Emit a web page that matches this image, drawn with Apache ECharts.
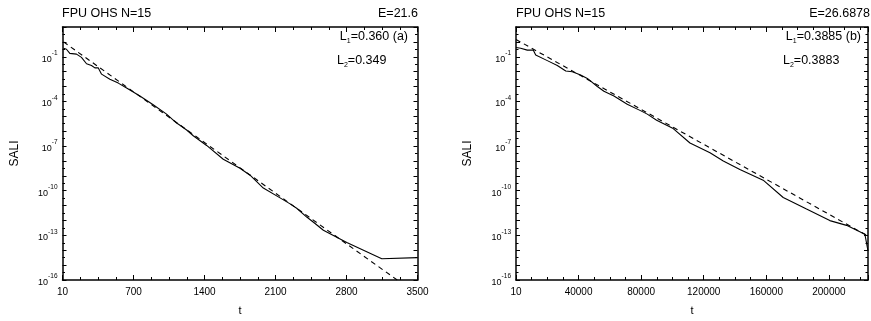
<!DOCTYPE html>
<html><head><meta charset="utf-8">
<script src="https://cdn.jsdelivr.net/npm/echarts@6/dist/echarts.min.js"></script>
<style>html,body{margin:0;padding:0;background:#fff}#c{width:871px;height:321px}</style>
</head><body><div id="c"></div>
<script>
// ---- data (panel a: E=21.6) ----
const tA = [10, 39, 72, 138, 187, 237, 286, 319, 352, 385, 467, 550, 632, 763, 894, 1026, 1125, 1158, 1224, 1289, 1421, 1585, 1750, 1849, 1980, 2145, 2244, 2309, 2408, 2490, 2572, 2803, 3148, 3500];
const saliA = [3.7e-1, 3.2e-1, 1.7e-1, 1.5e-1, 9.1e-2, 3.4e-2, 2.6e-2, 1.8e-2, 1.8e-2, 6.8e-3, 3.1e-3, 1.7e-3, 7.9e-4, 2.3e-4, 5.9e-5, 1.4e-5, 3.5e-6, 2.5e-6, 1.2e-6, 4.9e-7, 1.1e-7, 1.3e-8, 3.2e-9, 1.1e-9, 1.5e-10, 3.3e-11, 1.3e-11, 6.6e-12, 1.7e-12, 6.3e-13, 2.2e-13, 3.3e-14, 2.7e-15, 3.2e-15];
const fitTA = [10, 3300];
const fitA = [1.0e0, 1e-16];
// ---- data (panel b: E=26.6878) ----
const tB = [10, 3000, 7200, 11000, 12600, 20000, 26400, 31800, 36000, 41300, 45600, 52000, 56200, 62600, 71100, 79200, 83900, 89900, 100500, 111200, 124000, 132500, 143100, 158000, 170800, 185700, 200600, 211300, 223000, 225000];
const saliB = [4.2e-1, 3.7e-1, 2.8e-1, 2.8e-1, 1.3e-1, 5.5e-2, 2.6e-2, 1.1e-2, 9.8e-3, 5.9e-3, 3.5e-3, 1.0e-3, 4.8e-4, 2.3e-4, 6.5e-5, 2.5e-5, 1.4e-5, 5.4e-6, 1.5e-6, 1.6e-7, 3.5e-8, 1.0e-8, 2.7e-9, 5.1e-10, 3.5e-11, 5.8e-12, 9.8e-13, 4.7e-13, 1.2e-13, 8.9e-15];
const fitTB = [10, 225000];
const fitB = [1.45e0, 8.9e-14];
// ---- axis ticks / texts ----
const xTicksA = [10, 700, 1400, 2100, 2800, 3500];
const xTicksB = [10, 40000, 80000, 120000, 160000, 200000];
const yLabelExps = [-1, -4, -7, -10, -13, -16];
const headerLeft = 'FPU OHS N=15';
const energyA = 'E=21.6', energyB = 'E=26.6878';
const lyapA = ['0.360', '0.349', '(a)'];
const lyapB = ['0.3885', '0.3883', '(b)'];

const FF = '"Liberation Sans", Arial, Helvetica, sans-serif';
const BLACK = '#000';
const pts = (ts, vs) => ts.map((t, i) => [t, Math.log10(vs[i])]);

function xAx(grid, max, interval, ticks, pos) {
  const bottom = pos === 'bottom';
  return {
    gridIndex: grid, type: 'value', position: pos, min: 0, max: max, interval: interval,
    axisLine: {onZero: false, lineStyle: {color: BLACK, width: 1.5}},
    axisTick: {inside: true, length: 5, lineStyle: {color: BLACK, width: 1}},
    minorTick: {show: true, splitNumber: 4, length: 3, lineStyle: {color: BLACK, width: 1}},
    splitLine: {show: false}, minorSplitLine: {show: false},
    axisLabel: {show: bottom, margin: 7, fontSize: 10, color: BLACK, fontFamily: FF,
      formatter: v => { const i = Math.round(v / interval); return (Math.abs(v - i * interval) < 1e-6 && i < ticks.length) ? String(ticks[i]) : ''; }},
    name: bottom ? 't' : '', nameLocation: 'middle', nameGap: 25,
    nameTextStyle: {fontSize: 11, color: BLACK, fontFamily: FF}
  };
}
function yAx(grid, pos) {
  const left = pos === 'left';
  return {
    gridIndex: grid, type: 'value', position: pos, min: -16, max: 1, interval: 1,
    axisLine: {onZero: false, lineStyle: {color: BLACK, width: 1.5}},
    axisTick: {inside: true, length: 4, lineStyle: {color: BLACK, width: 1}},
    minorTick: {show: true, splitNumber: 2, length: 2.5, lineStyle: {color: BLACK, width: 1}},
    splitLine: {show: false}, minorSplitLine: {show: false},
    axisLabel: {show: left, margin: 5, color: BLACK, fontFamily: FF,
      formatter: v => { const e = Math.round(v); return yLabelExps.indexOf(e) >= 0 ? '{b|10}{e|' + e + '}' : ''; },
      rich: {b: {fontSize: 9, lineHeight: 14, verticalAlign: 'bottom', fontFamily: FF, color: BLACK},
             e: {fontSize: 6.5, lineHeight: 8, verticalAlign: 'top', fontFamily: FF, color: BLACK}}},
    name: left ? 'SALI' : '', nameLocation: 'middle', nameGap: 42,
    nameTextStyle: {fontSize: 12, color: BLACK, fontFamily: FF}
  };
}
function txt(text, pos, size, rich) {
  return Object.assign({text: text, padding: 0, itemGap: 0,
    textStyle: {fontSize: size, fontWeight: 'normal', color: BLACK, fontFamily: FF, rich: rich || {}}}, pos);
}
const lrich = {l: {fontSize: 12.5, fontFamily: FF, color: BLACK, verticalAlign: 'top', lineHeight: 15},
               s: {fontSize: 7, fontFamily: FF, color: BLACK, verticalAlign: 'bottom', lineHeight: 15}};
const lyapText = (k, v, tag) => '{l|L}{s|' + k + '}{l|=' + v + (tag ? ' ' + tag : '') + '}';

const W = 871;
const option = {
  animation: false,
  backgroundColor: '#fff',
  grid: [
    {left: 62.5, top: 27, width: 355, height: 261},
    {left: 516, top: 27, width: 352, height: 261}
  ],
  xAxis: [xAx(0, 3500, 700, xTicksA, 'bottom'), xAx(0, 3500, 700, xTicksA, 'top'),
          xAx(1, 225000, 40000, xTicksB, 'bottom'), xAx(1, 225000, 40000, xTicksB, 'top')],
  yAxis: [yAx(0, 'left'), yAx(0, 'right'), yAx(1, 'left'), yAx(1, 'right')],
  title: [
    txt(headerLeft, {left: 62, top: 7}, 12.5),
    txt(energyA, {right: W - 418, top: 7}, 12.5),
    txt(headerLeft, {left: 516, top: 7}, 12.5),
    txt(energyB, {right: 1, top: 7}, 12.5),
    txt(lyapText(1, lyapA[0], lyapA[2]), {right: W - 408, top: 30}, 12.5, lrich),
    txt(lyapText(2, lyapA[1]), {left: 337, top: 54}, 12.5, lrich),
    txt(lyapText(1, lyapB[0], lyapB[2]), {right: W - 861, top: 30}, 12.5, lrich),
    txt(lyapText(2, lyapB[1]), {left: 783, top: 54}, 12.5, lrich)
  ],
  series: [
    {type: 'line', xAxisIndex: 0, yAxisIndex: 0, data: pts(tA, saliA), showSymbol: false, symbol: 'none',
     lineStyle: {color: BLACK, width: 1.1}, z: 3},
    {type: 'line', xAxisIndex: 0, yAxisIndex: 0, data: pts(fitTA, fitA), showSymbol: false, symbol: 'none',
     lineStyle: {color: BLACK, width: 1.1, type: [5, 4]}, z: 2},
    {type: 'line', xAxisIndex: 2, yAxisIndex: 2, data: pts(tB, saliB), showSymbol: false, symbol: 'none',
     lineStyle: {color: BLACK, width: 1.1}, z: 3},
    {type: 'line', xAxisIndex: 2, yAxisIndex: 2, data: pts(fitTB, fitB), showSymbol: false, symbol: 'none',
     lineStyle: {color: BLACK, width: 1.1, type: [5, 4]}, z: 2}
  ]
};
const chart = echarts.init(document.getElementById('c'), null, {renderer: 'canvas'});
chart.setOption(option);
</script></body></html>
